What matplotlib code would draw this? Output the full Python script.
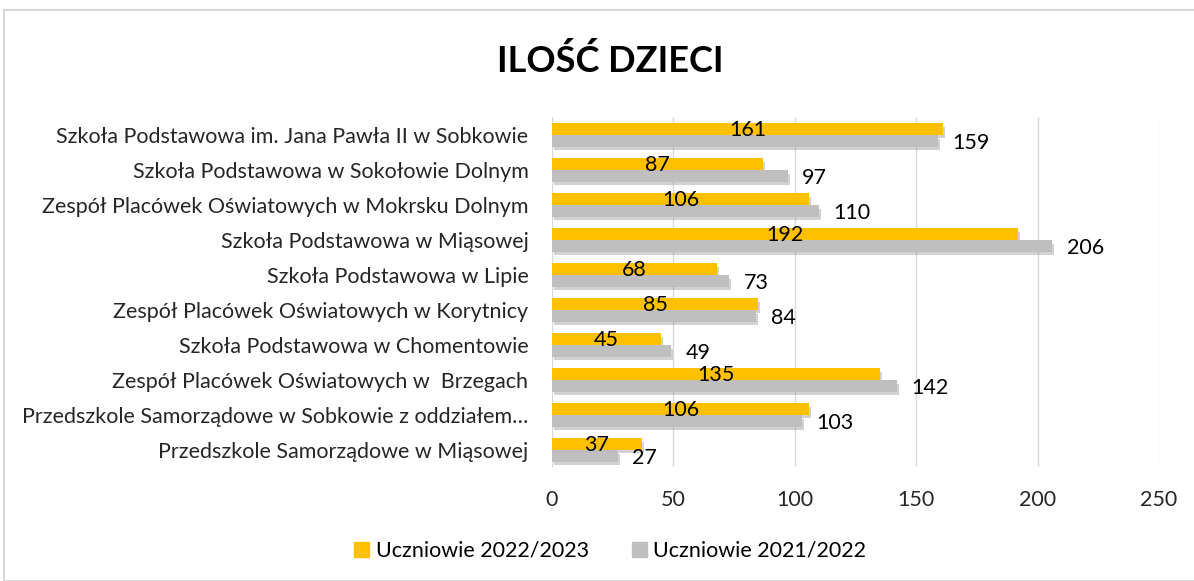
import matplotlib.pyplot as plt
import matplotlib.patheffects as pe
from matplotlib.patches import Rectangle, Patch

plt.rcParams['font.family'] = ['Lato', 'DejaVu Sans']

szkoly = [
    'Szkoła Podstawowa im. Jana Pawła II w Sobkowie',
    'Szkoła Podstawowa w Sokołowie Dolnym',
    'Zespół Placówek Oświatowych w Mokrsku Dolnym',
    'Szkoła Podstawowa w Miąsowej',
    'Szkoła Podstawowa w Lipie',
    'Zespół Placówek Oświatowych w Korytnicy',
    'Szkoła Podstawowa w Chomentowie',
    'Zespół Placówek Oświatowych w  Brzegach',
    'Przedszkole Samorządowe w Sobkowie z oddziałem…',
    'Przedszkole Samorządowe w Miąsowej',
]
uczniowie_2022 = [161, 87, 106, 192, 68, 85, 45, 135, 106, 37]
uczniowie_2021 = [159, 97, 110, 206, 73, 84, 49, 142, 103, 27]
x_ticks = [0, 50, 100, 150, 200, 250]

zolty = '#FFC000'
szary = '#BFBFBF'
fs = 15.5

fig = plt.figure(figsize=(11.94, 5.81), dpi=100)
ax = fig.add_axes([0.4623, 0.1954, 0.5084, 0.6024])

# ramka wykresu
fig.patches.append(Rectangle((4 / 1194, 0), 1.2, 1 - 10 / 581, transform=fig.transFigure,
                             fill=False, edgecolor='#D9D9D9', linewidth=1.5))

y = list(range(len(szkoly)))
h = 0.32
cien = [pe.SimplePatchShadow(offset=(1.5, -2.5), shadow_rgbFace='#7F7F7F', alpha=0.35), pe.Normal()]
b1 = ax.barh([i - h / 2 - 0.01 for i in y], uczniowie_2022, height=h, color=zolty, zorder=3)
b2 = ax.barh([i + h / 2 + 0.01 for i in y], uczniowie_2021, height=h, color=szary, zorder=3)
for b in list(b1) + list(b2):
    b.set_path_effects(cien)

for i, v in enumerate(uczniowie_2022):
    ax.text(v / 2, i - h / 2 + 0.02, str(v), ha='center', va='center', fontsize=fs,
            color='#000000', zorder=5)
for i, v in enumerate(uczniowie_2021):
    ax.text(v + 6, i + h / 2 + 0.06, str(v), ha='left', va='center', fontsize=fs,
            color='#000000', zorder=5)

ax.set_ylim(len(szkoly) - 0.5, -0.5)
ax.set_xlim(0, 250)
ax.set_xticks(x_ticks)
ax.set_yticks(y)
ax.set_yticklabels(szkoly, fontsize=fs, color='#262626')
ax.tick_params(axis='x', labelsize=fs, colors='#262626', length=0, pad=16)
ax.tick_params(axis='y', length=0, pad=17)
ax.grid(axis='x', color='#D9D9D9', linewidth=1, zorder=0)
for s in ax.spines.values():
    s.set_visible(False)

fig.text(0.511, 0.895, 'ILOŚĆ DZIECI', ha='center', va='center', fontsize=26,
         fontweight='bold', color='#000000')

uchwyty = [Patch(color=zolty, label='Uczniowie 2022/2023'),
           Patch(color=szary, label='Uczniowie 2021/2022')]
fig.legend(handles=uchwyty, loc='center', bbox_to_anchor=(0.511, 0.052), ncol=2,
           frameon=False, fontsize=fs, handlelength=0.7, handleheight=0.7,
           handletextpad=0.3, columnspacing=2.0)

fig.savefig('out.png', dpi=100)
